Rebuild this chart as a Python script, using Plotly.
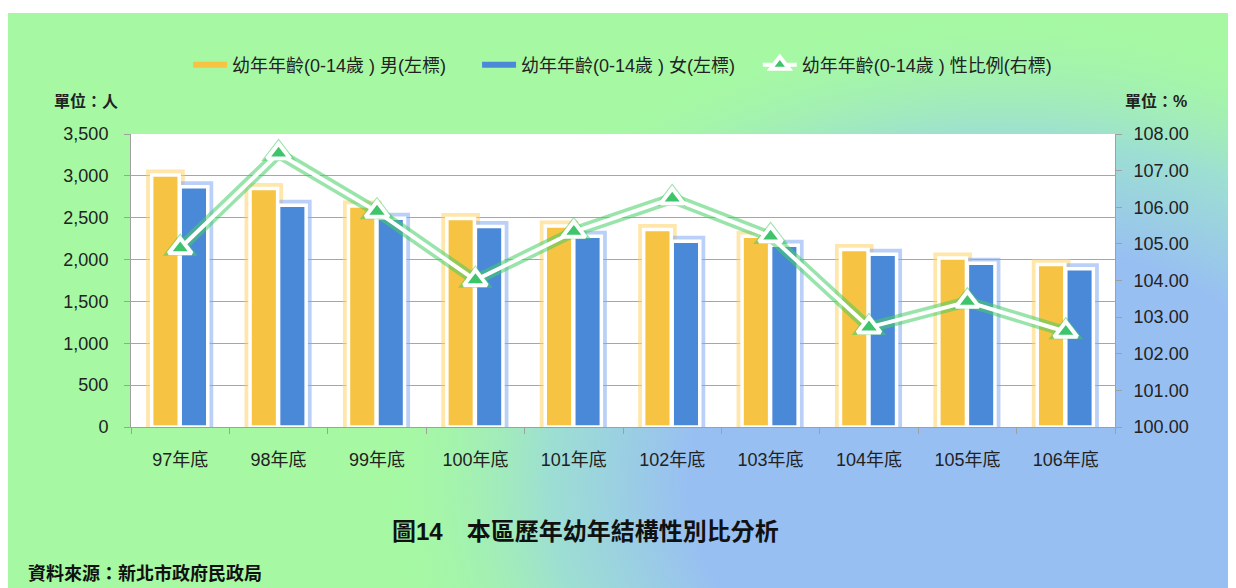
import base64
import plotly.graph_objects as go

# 各年底幼年人口(0-14歲)
years = ["97年底", "98年底", "99年底", "100年底", "101年底",
         "102年底", "103年底", "104年底", "105年底", "106年底"]
male = [3010, 2850, 2640, 2490, 2400, 2360, 2280, 2120, 2020, 1940]
female = [2870, 2650, 2495, 2395, 2280, 2220, 2170, 2065, 1955, 1890]
ratio = [104.88, 107.47, 105.88, 104.01, 105.33, 106.24, 105.20, 102.72, 103.42, 102.60]

NAME_M = "幼年年齡(0-14歲 ) 男(左標)"
NAME_F = "幼年年齡(0-14歲 ) 女(左標)"
NAME_R = "幼年年齡(0-14歲 ) 性比例(右標)"

FONT = "Liberation Sans, Noto Sans CJK TC, sans-serif"
YEL, BLU, GRN = "#F6C342", "#4A88D8", "#3EC46A"

# 背景漸層 (綠 -> 藍)
svg = """<svg xmlns='http://www.w3.org/2000/svg' width='1228' height='575'>
<defs><radialGradient id='g' cx='1000' cy='470' r='640' gradientUnits='userSpaceOnUse'
 gradientTransform='translate(1000 470) scale(1 0.75) translate(-1000 -470)'>
<stop offset='0' stop-color='#98BFF2'/><stop offset='0.5' stop-color='#98BFF2'/>
<stop offset='0.72' stop-color='#9CDCD8' stop-opacity='0.9'/>
<stop offset='1' stop-color='#A6F9A2' stop-opacity='0'/></radialGradient></defs>
<rect width='1228' height='575' fill='#A6F9A2'/>
<rect width='1228' height='575' fill='url(#g)'/></svg>"""
bg = "data:image/svg+xml;base64," + base64.b64encode(svg.encode()).decode()

fig = go.Figure()

# 長條外光暈
for vals, col, glow, off in [(male, YEL, "rgba(255,210,100,0.55)", -0.29),
                             (female, BLU, "rgba(130,170,240,0.55)", 0.0)]:
    fig.add_trace(go.Bar(x=years, y=vals, width=0.28, offset=off,
                         marker=dict(color=col, line=dict(color=glow, width=11)),
                         showlegend=False, hoverinfo="skip"))

fig.add_trace(go.Bar(x=years, y=male, name=NAME_M, width=0.28, offset=-0.29,
                     showlegend=False,
                     marker=dict(color=YEL, line=dict(color="white", width=3.5))))
fig.add_trace(go.Bar(x=years, y=female, name=NAME_F, width=0.28, offset=0.0,
                     showlegend=False,
                     marker=dict(color=BLU, line=dict(color="white", width=3.5))))

# 圖例 (Excel 樣式的線段)
fig.add_trace(go.Scatter(x=[None], y=[None], mode="lines", name=NAME_M,
                         line=dict(color=YEL, width=6)))
fig.add_trace(go.Scatter(x=[None], y=[None], mode="lines", name=NAME_F,
                         line=dict(color=BLU, width=6)))

# 性比例折線 (含光暈)
fig.add_trace(go.Scatter(x=years, y=ratio, yaxis="y2", mode="lines+markers",
                         line=dict(color="rgba(70,205,100,0.55)", width=11),
                         marker=dict(symbol="triangle-up", size=30,
                                     color="rgba(70,205,100,0.55)"),
                         showlegend=False, hoverinfo="skip"))
fig.add_trace(go.Scatter(x=years, y=ratio, yaxis="y2", name=NAME_R,
                         legend="legend2", mode="lines+markers",
                         line=dict(color="white", width=4),
                         marker=dict(symbol="triangle-up", size=20, color=GRN,
                                     line=dict(color="white", width=4))))

leg = dict(orientation="h", xanchor="left", y=1.2355, yanchor="middle",
           bgcolor="rgba(0,0,0,0)", font=dict(size=18), itemwidth=34)

fig.update_layout(
    width=1228, height=580, barmode="overlay",
    margin=dict(l=123, r=121, t=126, b=161),
    paper_bgcolor="white", plot_bgcolor="white",
    font=dict(family=FONT, size=18, color="#222"),
    legend=dict(leg, x=0.058, traceorder="normal", entrywidth=240,
                entrywidthmode="pixels"),
    legend2=dict(leg, x=0.637),
    xaxis=dict(range=[-0.5, 9.5], showline=True, linecolor="#A0A0A0",
               ticks="outside", ticklen=6, tickcolor="#A0A0A0",
               tickson="boundaries", showgrid=False,
               ticklabelstandoff=16, tickfont=dict(size=18)),
    yaxis=dict(range=[0, 3500], dtick=500, tickformat=",", showline=True,
               linecolor="#A0A0A0", gridcolor="#A6A6A6", ticks="outside",
               ticklen=6, tickcolor="#A0A0A0", zeroline=False,
               ticklabelstandoff=12, tickfont=dict(size=18)),
    yaxis2=dict(range=[100, 108], dtick=1, tickformat=".2f", overlaying="y",
                side="right", showgrid=False, showline=True, linecolor="#A0A0A0",
                ticks="outside", ticklen=6, tickcolor="#A0A0A0", zeroline=False,
                ticklabelstandoff=8, tickfont=dict(size=18)),
    images=[dict(source=bg, xref="paper", yref="paper", x=-0.125, y=1.413,
                 sizex=1.248, sizey=1.9625, sizing="stretch",
                 xanchor="left", yanchor="top", layer="below")],
    shapes=[dict(type="rect", xref="paper", yref="paper", x0=0, x1=1, y0=0, y1=1,
                 fillcolor="white", line=dict(width=0), layer="below")],
)

fig.add_annotation(text="<b>單位：人</b>", xref="paper", yref="paper",
                   x=-0.0457, y=1.1126, showarrow=False, font=dict(size=16),
                   xanchor="center", yanchor="middle")
fig.add_annotation(text="<b>單位：%</b>", xref="paper", yref="paper",
                   x=1.0417, y=1.1126, showarrow=False, font=dict(size=16),
                   xanchor="center", yanchor="middle")
fig.add_annotation(text="<b>圖14　本區歷年幼年結構性別比分析</b>", xref="paper",
                   yref="paper", x=0.462, y=-0.358, showarrow=False,
                   font=dict(size=24, color="#111"), yanchor="middle")
fig.add_annotation(text="<b>資料來源：新北市政府民政局</b>", xref="paper",
                   yref="paper", x=-0.107, y=-0.5, xanchor="left",
                   yanchor="middle", showarrow=False,
                   font=dict(size=18, color="#111"))

fig.write_html("out.html")
